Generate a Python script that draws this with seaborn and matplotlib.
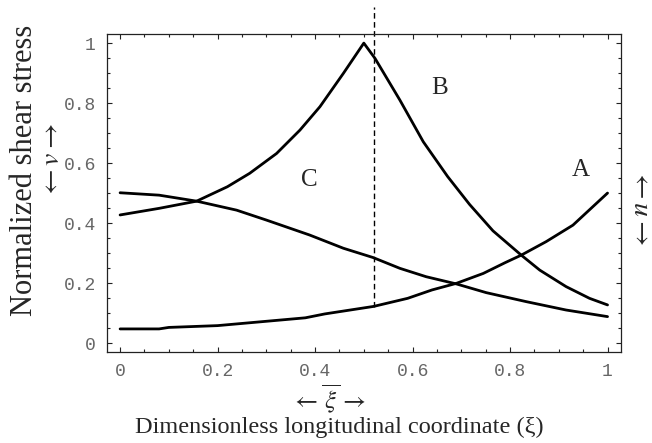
# shear stress along the channel, curves A, B, C
import numpy as np
import pandas as pd
import matplotlib
matplotlib.use('Agg')
import matplotlib.pyplot as plt
from matplotlib.ticker import MultipleLocator
import seaborn as sns

# values
xi_A = [0, 0.08, 0.10, 0.20, 0.29, 0.38, 0.42, 0.52, 0.59, 0.64, 0.69, 0.745, 0.79, 0.823, 0.874, 0.929, 1.0]
A = [0.047, 0.047, 0.052, 0.058, 0.071, 0.084, 0.097, 0.122, 0.149, 0.177, 0.199, 0.232, 0.268, 0.293, 0.338, 0.393, 0.5]

xi_B = [0, 0.08, 0.157, 0.22, 0.266, 0.321, 0.369, 0.41, 0.458, 0.5, 0.523, 0.574, 0.622, 0.672, 0.717, 0.765, 0.823, 0.861, 0.915, 0.963, 1.0]
B = [0.427, 0.449, 0.473, 0.521, 0.566, 0.632, 0.71, 0.788, 0.899, 1.0, 0.949, 0.81, 0.671, 0.555, 0.462, 0.374, 0.293, 0.243, 0.188, 0.149, 0.127]

xi_C = [0, 0.08, 0.157, 0.239, 0.30, 0.389, 0.458, 0.519, 0.574, 0.628, 0.69, 0.751, 0.833, 0.915, 1.0]
C = [0.501, 0.493, 0.473, 0.443, 0.41, 0.36, 0.316, 0.285, 0.249, 0.221, 0.197, 0.168, 0.138, 0.11, 0.088]

xi_cut = 0.52
cut_range = [0.12, 1.12]

curve_names = ['A', 'B', 'C']
label_pos = {'A': (0.945, 0.577), 'B': (0.656, 0.85), 'C': (0.389, 0.543)}

sns.set_theme(style='white')
plt.rcParams['font.family'] = ['Liberation Serif', 'DejaVu Serif']
plt.rcParams['mathtext.fontset'] = 'stix'

fig = plt.figure(figsize=(6.52, 4.43), dpi=100)
ax = fig.add_axes([0.164, 0.2054, 0.788, 0.7176])

for xs, ys in [(xi_A, A), (xi_B, B), (xi_C, C)]:
    df = pd.DataFrame({'xi': xs, 'tau': ys})
    sns.lineplot(data=df, x='xi', y='tau', ax=ax, color='black', lw=2.0, sort=False)

ax.plot([xi_cut, xi_cut], cut_range, color='black', lw=1.0, ls=(0, (4, 2.5)), clip_on=False)

for name in curve_names:
    x, y = label_pos[name]
    ax.text(x, y, name, fontsize=18, ha='center', va='center')

ax.set_xlim(-0.027, 1.027)
ax.set_ylim(-0.03, 1.03)
ax.xaxis.set_major_locator(MultipleLocator(0.2))
ax.xaxis.set_minor_locator(MultipleLocator(0.05))
ax.yaxis.set_major_locator(MultipleLocator(0.2))
ax.yaxis.set_minor_locator(MultipleLocator(0.05))
ax.set_xticklabels(['0' if abs(t) < 1e-9 else ('1' if abs(t - 1) < 1e-9 else '%.1f' % t) for t in ax.get_xticks()])
ax.set_yticklabels(['0' if abs(t) < 1e-9 else ('1' if abs(t - 1) < 1e-9 else '%.1f' % t) for t in ax.get_yticks()])
ax.tick_params(which='both', direction='in', top=True, right=True, bottom=True, left=True,
               color='#222222', width=0.8)
ax.tick_params(which='major', length=3.5, pad=8, labelsize=13, labelcolor='#666666')
ax.tick_params(which='minor', length=2.5)
for lab in ax.get_xticklabels() + ax.get_yticklabels():
    lab.set_family('Liberation Mono')
for sp in ax.spines.values():
    sp.set_color('#222222')
    sp.set_linewidth(0.9)

ax.set_xlabel('')
ax.set_ylabel('')
fig.text(0.521, 0.036, 'Dimensionless longitudinal coordinate (ξ)', fontsize=17.5, ha='center', va='center')
fig.text(0.038, 0.616, 'Normalized shear stress', fontsize=22, rotation=90, ha='center', va='center')
fig.text(0.08, 0.637, r'$\leftarrow v \rightarrow$', fontsize=20, rotation=90, ha='center', va='center')
fig.text(0.982, 0.533, r'$\leftarrow u \rightarrow$', fontsize=20, rotation=-90, ha='center', va='center')
fig.text(0.503, 0.098, r'$\leftarrow \overline{\,\xi\,} \rightarrow$', fontsize=18, ha='center', va='center')

plt.savefig('out.png', dpi=100)
